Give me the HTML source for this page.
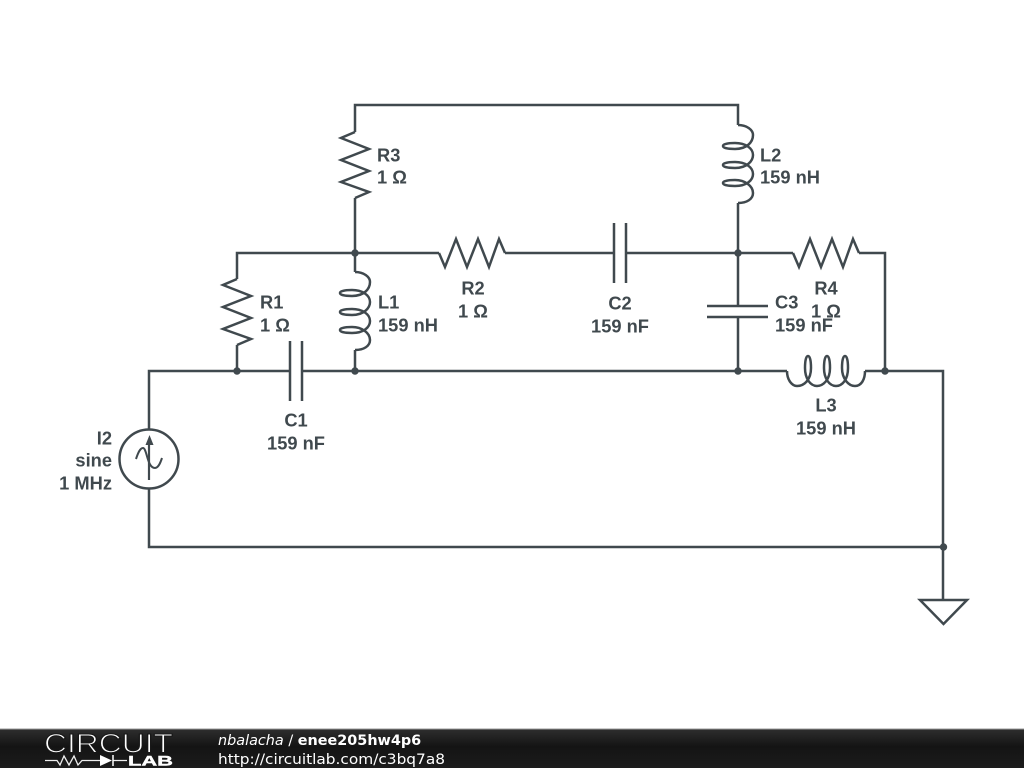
<!DOCTYPE html>
<html><head><meta charset="utf-8"><style>
html,body{margin:0;padding:0;background:#fff;width:1024px;height:768px;overflow:hidden}
svg{display:block}
.t{font:bold 18.3px "Liberation Sans",Arial,sans-serif;fill:#40494e}
.f{font:14.4px "DejaVu Sans",sans-serif;fill:#fff}
</style></head><body>
<svg width="1024" height="768" viewBox="0 0 1024 768" xmlns="http://www.w3.org/2000/svg">
<defs>
<linearGradient id="g" x1="0" y1="0" x2="0" y2="1"><stop offset="0" stop-color="#2e2e2e"/><stop offset=".45" stop-color="#141414"/><stop offset="1" stop-color="#1c1c1c"/></linearGradient>
<path id="coil" d="M0 0C9 0 15 5 15 10C15 17 9 24 -3 24C-10 24 -15 23 -15 21C-15 19 -10 18 -3 18C7 18 15 23 15 30C15 36 9 43 -3 43C-10 43 -15 42 -15 40C-15 38 -10 37 -3 37C7 37 15 42 15 49C15 55 9 61 -3 61C-10 61 -15 60 -15 58C-15 56 -10 55 -3 55C7 55 15 61 15 68C15 74 9 78 0 78"/>
<path id="zz" d="M0 0L-14 6L14 17L-14 28L14 39L-14 50L14 60L0 66"/>
</defs>
<g fill="none" stroke="#40494e" stroke-width="2.500" stroke-linejoin="miter">
<path d="M355 132V105H738V125"/>
<path d="M738 203V306M738 317V371"/>
<path d="M355 198V272M355 350V371"/>
<path d="M237 279V253H439M505 253H614M626 253H793M859 253H885V371"/>
<path d="M237 345V371M149 430V371H290M302 371H787M865 371H943V600"/>
<path d="M149 488V547H943"/>
<path d="M920 600H967L943.500 624Z"/>
<use href="#zz" transform="translate(355 132)"/>
<use href="#zz" transform="translate(237 279)"/>
<use href="#zz" transform="translate(439 253) rotate(-90)"/>
<use href="#zz" transform="translate(793 253) rotate(-90)"/>
<use href="#coil" transform="translate(355 272)"/>
<use href="#coil" transform="translate(738 125)"/>
<use href="#coil" transform="translate(787 371) rotate(-90) scale(-1 1)"/>
<path d="M290 341V401M302 341V401M614 223V283M626 223V283M707 306H768M707 317H768"/>
<circle cx="149" cy="459" r="29.500"/>
<path d="M149 480V440" stroke-width="2.200"/>
<path d="M136 459C138 453 140 448 143 448C147 448 147 468 155 468C158 468 160 464 162 458" stroke-width="2"/>
</g>
<path d="M149.500 435L153.500 445H145.500Z" fill="#40494e"/>
<g fill="#40494e">
<circle cx="355" cy="253" r="3.700"/><circle cx="738" cy="253" r="3.700"/><circle cx="237" cy="371" r="3.700"/><circle cx="355" cy="371" r="3.700"/><circle cx="738" cy="371" r="3.700"/><circle cx="885" cy="371" r="3.700"/><circle cx="943.500" cy="547" r="3.700"/>
</g>
<g class="t" transform="translate(0 .7)">
<text class="t" x="377" y="161">R3</text><text class="t" x="377" y="183">1 Ω</text>
<text class="t" x="760" y="161">L2</text><text class="t" x="760" y="183">159 nH</text>
<text class="t" x="260" y="308">R1</text><text class="t" x="260" y="331">1 Ω</text>
<text class="t" x="378" y="308">L1</text><text class="t" x="378" y="331">159 nH</text>
<text class="t" x="473" y="294" text-anchor="middle">R2</text><text class="t" x="473" y="317" text-anchor="middle">1 Ω</text>
<text class="t" x="620" y="309" text-anchor="middle">C2</text><text class="t" x="620" y="332" text-anchor="middle">159 nF</text>
<text class="t" x="775" y="308">C3</text><text class="t" x="775" y="331">159 nF</text>
<text class="t" x="826" y="294" text-anchor="middle">R4</text><text class="t" x="826" y="317" text-anchor="middle">1 Ω</text>
<text class="t" x="296" y="426" text-anchor="middle">C1</text><text class="t" x="296" y="449" text-anchor="middle">159 nF</text>
<text class="t" x="826" y="411" text-anchor="middle">L3</text><text class="t" x="826" y="434" text-anchor="middle">159 nH</text>
<text class="t" x="112" y="444" text-anchor="end">I2</text><text class="t" x="112" y="466" text-anchor="end">sine</text><text class="t" x="112" y="489" text-anchor="end">1 MHz</text>
</g>
<rect x="0" y="729" width="1024" height="39" fill="url(#g)"/>
<rect x="0" y="728.500" width="1024" height="1" fill="#999"/>
<text x="44" y="752.500" font-family="Liberation Sans,sans-serif" font-size="27" fill="#fff" stroke="#181818" stroke-width="1.100" textLength="129" lengthAdjust="spacingAndGlyphs">CIRCUIT</text>
<path d="M45 760.500H57L60 765L64 756L69 765L74 756L78 765L82 760.500H100M113 760.500H127" fill="none" stroke="#eee" stroke-width="1.300"/>
<path d="M100 755V766L112 760.500Z" fill="#fff"/><path d="M113 755V766" stroke="#fff" stroke-width="1.500"/>
<text x="128" y="765.500" font-family="Liberation Sans,sans-serif" font-weight="bold" font-size="14" fill="#fff" stroke="#fff" stroke-width=".4" textLength="45" lengthAdjust="spacingAndGlyphs">LAB</text>
<text class="f" x="218" y="745"><tspan font-style="italic">nbalacha</tspan> / <tspan font-weight="bold">enee205hw4p6</tspan></text>
<text class="f" x="218" y="764" textLength="227" lengthAdjust="spacingAndGlyphs">http://circuitlab.com/c3bq7a8</text>
</svg>
</body></html>
